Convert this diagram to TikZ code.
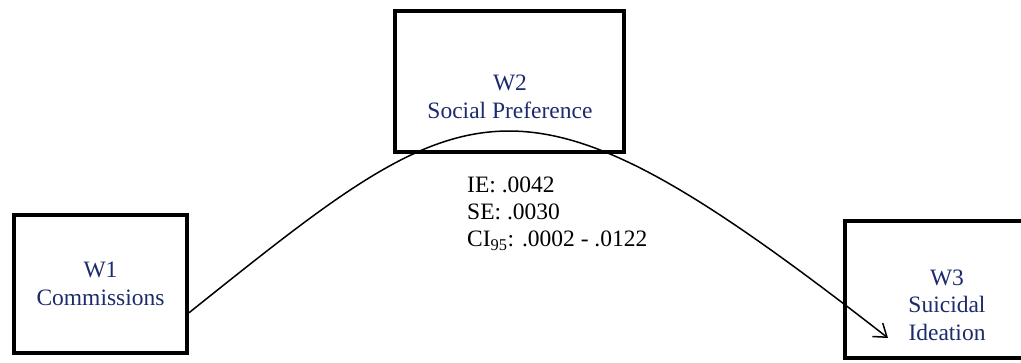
\documentclass[tikz,border=0pt]{standalone}
\usepackage{fontspec}
\setmainfont{Liberation Serif}
\usetikzlibrary{arrows.meta}
\definecolor{wnavy}{HTML}{1C2B6C}
\tikzset{
  >={Straight Barb[length=12pt,width=17pt]},
  % rutor
  wbox/.style={draw=black,line width=4pt,inner sep=0pt},
  wtxt/.style={text=wnavy,align=center,inner sep=0pt,font=\fontsize{23.5}{27.5}\selectfont},
  % medieringspil
  med/.style={->,draw=black,line width=1.5pt},
  stat/.style={text=black,align=left,anchor=west,inner sep=0pt,font=\fontsize{23.5}{27}\selectfont},
}

\begin{document}
\begin{tikzpicture}[x=1pt,y=-1pt]
  \useasboundingbox (0,0) rectangle (1021,363);
  \node[wbox,minimum width=173pt,minimum height=138pt] (w1) at (100.5,284) {};
  \node[wbox,minimum width=229pt,minimum height=141pt] (w2) at (509.5,81.5) {};
  \node[wbox,minimum width=204pt,minimum height=137pt] (w3) at (947,289.5) {};
  \node[wtxt] (w1t) at (w1.center) {W1\\Commissions};
  \node[wtxt] (w2t) at (510,97) {W2\\Social Preference};
  \node[wtxt] (w3t) at (947,305) {W3\\Suicidal\\Ideation};
  \node[stat] (ie) at (467,214) {IE: .0042\\SE: .0030\\CI\textsubscript{95}: .0002 - .0122};
  \coordinate (tip) at (888,338);
  \draw[med] (w1.-18) .. controls (473,86) and (515,47) .. (tip);
\end{tikzpicture}
\end{document}
